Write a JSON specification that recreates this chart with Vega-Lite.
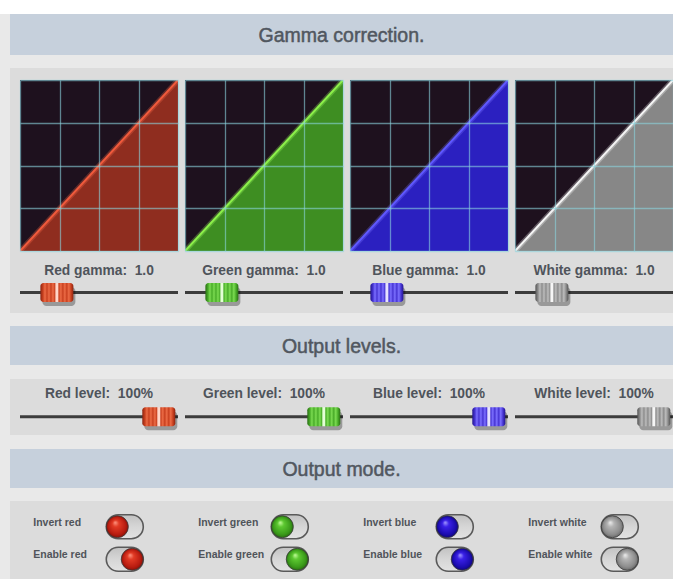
{
"$schema": "https://vega.github.io/schema/vega-lite/v6.json",
"padding": 0,
"background": "#dcdcdc",
"spacing": 0,
"config": {
  "view": {"stroke": null},
  "text": {"font": "Liberation Sans"},
  "axis": {"labels": false, "ticks": false, "domain": false, "grid": true, "gridColor": "#8ad4de", "gridOpacity": 0.6, "gridWidth": 1.3, "minExtent": 0, "maxExtent": 0}
},
"vconcat": [
  {"width": 673, "height": 14, "data": {"values": [{}]}, "mark": {"type": "text", "text": ""}, "view": {"fill": "#ffffff"}},
  {"spacing": 0, "hconcat": [
    {"width": 10, "height": 565, "data": {"values": [{}]}, "mark": {"type": "text", "text": ""}, "view": {"fill": "#e9e9e9"}},
    {"spacing": 0, "vconcat": [
      {"width": 663, "height": 41, "data": {"values": [{"title": "Gamma correction."}]}, "mark": {"type": "text", "fontSize": 19.5, "color": "#515760", "stroke": "#515760", "strokeWidth": 0.5, "dy": 1}, "encoding": {"text": {"field": "title"}}, "view": {"fill": "#c6d0dc"}},
      {"width": 663, "height": 13, "data": {"values": [{}]}, "mark": {"type": "text", "text": ""}, "view": {"fill": "#e9e9e9"}},
      {"width": 663, "height": 12, "data": {"values": [{}]}, "mark": {"type": "text", "text": ""}},
      {"spacing": 7, "bounds": "flush", "hconcat": [
        {"width": 2.5, "height": 171, "data": {"values": [{}]}, "mark": {"type": "text", "text": ""}},
        {"width": 158, "height": 171, "view": {"fill": "#1e111e"},
         "data": {"values": [{"input": 0, "output": 0}, {"input": 1, "output": 1}]},
         "encoding": {
           "x": {"field": "input", "type": "quantitative", "scale": {"domain": [0, 1], "nice": false, "zero": false}, "axis": {"values": [0, 0.25, 0.5, 0.75, 1], "title": null, "zindex": 1}},
           "y": {"field": "output", "type": "quantitative", "scale": {"domain": [0, 1], "nice": false, "zero": false}, "axis": {"values": [0, 0.25, 0.5, 0.75, 1], "title": null, "zindex": 1}}
         },
         "layer": [
           {"mark": {"type": "area", "color": "#8f2d1f", "clip": true}},
           {"mark": {"type": "line", "color": "#ff6a4a", "strokeWidth": 5, "opacity": 0.3, "clip": true}},
           {"mark": {"type": "line", "color": "#f05a3c", "strokeWidth": 2, "clip": true}}
         ]},
        {"width": 158, "height": 171, "view": {"fill": "#1e111e"},
         "data": {"values": [{"input": 0, "output": 0}, {"input": 1, "output": 1}]},
         "encoding": {
           "x": {"field": "input", "type": "quantitative", "scale": {"domain": [0, 1], "nice": false, "zero": false}, "axis": {"values": [0, 0.25, 0.5, 0.75, 1], "title": null, "zindex": 1}},
           "y": {"field": "output", "type": "quantitative", "scale": {"domain": [0, 1], "nice": false, "zero": false}, "axis": {"values": [0, 0.25, 0.5, 0.75, 1], "title": null, "zindex": 1}}
         },
         "layer": [
           {"mark": {"type": "area", "color": "#3e8e22", "clip": true}},
           {"mark": {"type": "line", "color": "#a0ff60", "strokeWidth": 5, "opacity": 0.3, "clip": true}},
           {"mark": {"type": "line", "color": "#8cf04a", "strokeWidth": 2, "clip": true}}
         ]},
        {"width": 158, "height": 171, "view": {"fill": "#1e111e"},
         "data": {"values": [{"input": 0, "output": 0}, {"input": 1, "output": 1}]},
         "encoding": {
           "x": {"field": "input", "type": "quantitative", "scale": {"domain": [0, 1], "nice": false, "zero": false}, "axis": {"values": [0, 0.25, 0.5, 0.75, 1], "title": null, "zindex": 1}},
           "y": {"field": "output", "type": "quantitative", "scale": {"domain": [0, 1], "nice": false, "zero": false}, "axis": {"values": [0, 0.25, 0.5, 0.75, 1], "title": null, "zindex": 1}}
         },
         "layer": [
           {"mark": {"type": "area", "color": "#2b20c0", "clip": true}},
           {"mark": {"type": "line", "color": "#7a74ff", "strokeWidth": 5, "opacity": 0.3, "clip": true}},
           {"mark": {"type": "line", "color": "#5f58ff", "strokeWidth": 2, "clip": true}}
         ]},
        {"width": 158, "height": 171, "view": {"fill": "#1e111e"},
         "data": {"values": [{"input": 0, "output": 0}, {"input": 1, "output": 1}]},
         "encoding": {
           "x": {"field": "input", "type": "quantitative", "scale": {"domain": [0, 1], "nice": false, "zero": false}, "axis": {"values": [0, 0.25, 0.5, 0.75, 1], "title": null, "zindex": 1}},
           "y": {"field": "output", "type": "quantitative", "scale": {"domain": [0, 1], "nice": false, "zero": false}, "axis": {"values": [0, 0.25, 0.5, 0.75, 1], "title": null, "zindex": 1}}
         },
         "layer": [
           {"mark": {"type": "area", "color": "#878787", "clip": true}},
           {"mark": {"type": "line", "color": "#ffffff", "strokeWidth": 5, "opacity": 0.3, "clip": true}},
           {"mark": {"type": "line", "color": "#f4f4f4", "strokeWidth": 2, "clip": true}}
         ]}
      ]},
      {"spacing": 7, "bounds": "flush", "hconcat": [
        {"width": 2.5, "height": 62, "data": {"values": [{}]}, "mark": {"type": "text", "text": ""}},
        {"width": 158, "height": 62,
         "data": {"values": [{"label": "Red gamma: \u00a01.0", "gamma": 1.0}]},
         "layer": [
           {"mark": {"type": "text", "fontSize": 13.8, "fontWeight": "bold", "color": "#4f545b"},
            "encoding": {"text": {"field": "label"}, "y": {"datum": "label", "type": "nominal", "scale": {"type": "point", "domain": ["label", "track"], "padding": 0.97}, "axis": null}}},
           {"mark": {"type": "rule", "color": "#3c3c3c", "strokeWidth": 3},
            "encoding": {"y": {"datum": "track", "type": "nominal", "scale": {"type": "point", "domain": ["label", "track"], "padding": 0.97}, "axis": null}}},
           {"mark": {"type": "rect", "width": 33, "height": 19, "cornerRadius": 4, "color": "#000000", "opacity": 0.3, "xOffset": 2, "yOffset": 4},
            "encoding": {"x": {"field": "gamma", "type": "quantitative", "scale": {"domain": [0.0953, 3.971], "nice": false, "zero": false}, "axis": null}, "y": {"datum": "track", "type": "nominal", "scale": {"type": "point", "domain": ["label", "track"], "padding": 0.97}, "axis": null}}},
           {"mark": {"type": "rect", "width": 33, "height": 19, "cornerRadius": 3, "fill": {"gradient": "linear", "x1": 0, "y1": 0, "x2": 1, "y2": 0, "stops": [{"offset": 0, "color": "#8c2410"}, {"offset": 0.08, "color": "#c8401f"}, {"offset": 0.14, "color": "#ec6c46"}, {"offset": 0.2, "color": "#c8401f"}, {"offset": 0.26, "color": "#ec6c46"}, {"offset": 0.32, "color": "#c8401f"}, {"offset": 0.38, "color": "#ec6c46"}, {"offset": 0.44, "color": "#c8401f"}, {"offset": 0.47, "color": "#ffd6c8"}, {"offset": 0.53, "color": "#ffd6c8"}, {"offset": 0.56, "color": "#c8401f"}, {"offset": 0.62, "color": "#ec6c46"}, {"offset": 0.68, "color": "#c8401f"}, {"offset": 0.74, "color": "#ec6c46"}, {"offset": 0.8, "color": "#c8401f"}, {"offset": 0.86, "color": "#ec6c46"}, {"offset": 0.93, "color": "#c8401f"}, {"offset": 1, "color": "#8c2410"}]}},
            "encoding": {"x": {"field": "gamma", "type": "quantitative", "scale": {"domain": [0.0953, 3.971], "nice": false, "zero": false}, "axis": null}, "y": {"datum": "track", "type": "nominal", "scale": {"type": "point", "domain": ["label", "track"], "padding": 0.97}, "axis": null}}}
         ]},
        {"width": 158, "height": 62,
         "data": {"values": [{"label": "Green gamma: \u00a01.0", "gamma": 1.0}]},
         "layer": [
           {"mark": {"type": "text", "fontSize": 13.8, "fontWeight": "bold", "color": "#4f545b"},
            "encoding": {"text": {"field": "label"}, "y": {"datum": "label", "type": "nominal", "scale": {"type": "point", "domain": ["label", "track"], "padding": 0.97}, "axis": null}}},
           {"mark": {"type": "rule", "color": "#3c3c3c", "strokeWidth": 3},
            "encoding": {"y": {"datum": "track", "type": "nominal", "scale": {"type": "point", "domain": ["label", "track"], "padding": 0.97}, "axis": null}}},
           {"mark": {"type": "rect", "width": 33, "height": 19, "cornerRadius": 4, "color": "#000000", "opacity": 0.3, "xOffset": 2, "yOffset": 4},
            "encoding": {"x": {"field": "gamma", "type": "quantitative", "scale": {"domain": [0.0953, 3.971], "nice": false, "zero": false}, "axis": null}, "y": {"datum": "track", "type": "nominal", "scale": {"type": "point", "domain": ["label", "track"], "padding": 0.97}, "axis": null}}},
           {"mark": {"type": "rect", "width": 33, "height": 19, "cornerRadius": 3, "fill": {"gradient": "linear", "x1": 0, "y1": 0, "x2": 1, "y2": 0, "stops": [{"offset": 0, "color": "#2a6e14"}, {"offset": 0.08, "color": "#48ab28"}, {"offset": 0.14, "color": "#7cdc52"}, {"offset": 0.2, "color": "#48ab28"}, {"offset": 0.26, "color": "#7cdc52"}, {"offset": 0.32, "color": "#48ab28"}, {"offset": 0.38, "color": "#7cdc52"}, {"offset": 0.44, "color": "#48ab28"}, {"offset": 0.47, "color": "#e4ffd6"}, {"offset": 0.53, "color": "#e4ffd6"}, {"offset": 0.56, "color": "#48ab28"}, {"offset": 0.62, "color": "#7cdc52"}, {"offset": 0.68, "color": "#48ab28"}, {"offset": 0.74, "color": "#7cdc52"}, {"offset": 0.8, "color": "#48ab28"}, {"offset": 0.86, "color": "#7cdc52"}, {"offset": 0.93, "color": "#48ab28"}, {"offset": 1, "color": "#2a6e14"}]}},
            "encoding": {"x": {"field": "gamma", "type": "quantitative", "scale": {"domain": [0.0953, 3.971], "nice": false, "zero": false}, "axis": null}, "y": {"datum": "track", "type": "nominal", "scale": {"type": "point", "domain": ["label", "track"], "padding": 0.97}, "axis": null}}}
         ]},
        {"width": 158, "height": 62,
         "data": {"values": [{"label": "Blue gamma: \u00a01.0", "gamma": 1.0}]},
         "layer": [
           {"mark": {"type": "text", "fontSize": 13.8, "fontWeight": "bold", "color": "#4f545b"},
            "encoding": {"text": {"field": "label"}, "y": {"datum": "label", "type": "nominal", "scale": {"type": "point", "domain": ["label", "track"], "padding": 0.97}, "axis": null}}},
           {"mark": {"type": "rule", "color": "#3c3c3c", "strokeWidth": 3},
            "encoding": {"y": {"datum": "track", "type": "nominal", "scale": {"type": "point", "domain": ["label", "track"], "padding": 0.97}, "axis": null}}},
           {"mark": {"type": "rect", "width": 33, "height": 19, "cornerRadius": 4, "color": "#000000", "opacity": 0.3, "xOffset": 2, "yOffset": 4},
            "encoding": {"x": {"field": "gamma", "type": "quantitative", "scale": {"domain": [0.0953, 3.971], "nice": false, "zero": false}, "axis": null}, "y": {"datum": "track", "type": "nominal", "scale": {"type": "point", "domain": ["label", "track"], "padding": 0.97}, "axis": null}}},
           {"mark": {"type": "rect", "width": 33, "height": 19, "cornerRadius": 3, "fill": {"gradient": "linear", "x1": 0, "y1": 0, "x2": 1, "y2": 0, "stops": [{"offset": 0, "color": "#24168e"}, {"offset": 0.08, "color": "#4634d2"}, {"offset": 0.14, "color": "#7c70ff"}, {"offset": 0.2, "color": "#4634d2"}, {"offset": 0.26, "color": "#7c70ff"}, {"offset": 0.32, "color": "#4634d2"}, {"offset": 0.38, "color": "#7c70ff"}, {"offset": 0.44, "color": "#4634d2"}, {"offset": 0.47, "color": "#e6e2ff"}, {"offset": 0.53, "color": "#e6e2ff"}, {"offset": 0.56, "color": "#4634d2"}, {"offset": 0.62, "color": "#7c70ff"}, {"offset": 0.68, "color": "#4634d2"}, {"offset": 0.74, "color": "#7c70ff"}, {"offset": 0.8, "color": "#4634d2"}, {"offset": 0.86, "color": "#7c70ff"}, {"offset": 0.93, "color": "#4634d2"}, {"offset": 1, "color": "#24168e"}]}},
            "encoding": {"x": {"field": "gamma", "type": "quantitative", "scale": {"domain": [0.0953, 3.971], "nice": false, "zero": false}, "axis": null}, "y": {"datum": "track", "type": "nominal", "scale": {"type": "point", "domain": ["label", "track"], "padding": 0.97}, "axis": null}}}
         ]},
        {"width": 158, "height": 62,
         "data": {"values": [{"label": "White gamma: \u00a01.0", "gamma": 1.0}]},
         "layer": [
           {"mark": {"type": "text", "fontSize": 13.8, "fontWeight": "bold", "color": "#4f545b"},
            "encoding": {"text": {"field": "label"}, "y": {"datum": "label", "type": "nominal", "scale": {"type": "point", "domain": ["label", "track"], "padding": 0.97}, "axis": null}}},
           {"mark": {"type": "rule", "color": "#3c3c3c", "strokeWidth": 3},
            "encoding": {"y": {"datum": "track", "type": "nominal", "scale": {"type": "point", "domain": ["label", "track"], "padding": 0.97}, "axis": null}}},
           {"mark": {"type": "rect", "width": 33, "height": 19, "cornerRadius": 4, "color": "#000000", "opacity": 0.3, "xOffset": 2, "yOffset": 4},
            "encoding": {"x": {"field": "gamma", "type": "quantitative", "scale": {"domain": [0.0953, 3.971], "nice": false, "zero": false}, "axis": null}, "y": {"datum": "track", "type": "nominal", "scale": {"type": "point", "domain": ["label", "track"], "padding": 0.97}, "axis": null}}},
           {"mark": {"type": "rect", "width": 33, "height": 19, "cornerRadius": 3, "fill": {"gradient": "linear", "x1": 0, "y1": 0, "x2": 1, "y2": 0, "stops": [{"offset": 0, "color": "#555555"}, {"offset": 0.08, "color": "#8c8c8c"}, {"offset": 0.14, "color": "#bdbdbd"}, {"offset": 0.2, "color": "#8c8c8c"}, {"offset": 0.26, "color": "#bdbdbd"}, {"offset": 0.32, "color": "#8c8c8c"}, {"offset": 0.38, "color": "#bdbdbd"}, {"offset": 0.44, "color": "#8c8c8c"}, {"offset": 0.47, "color": "#f6f6f6"}, {"offset": 0.53, "color": "#f6f6f6"}, {"offset": 0.56, "color": "#8c8c8c"}, {"offset": 0.62, "color": "#bdbdbd"}, {"offset": 0.68, "color": "#8c8c8c"}, {"offset": 0.74, "color": "#bdbdbd"}, {"offset": 0.8, "color": "#8c8c8c"}, {"offset": 0.86, "color": "#bdbdbd"}, {"offset": 0.93, "color": "#8c8c8c"}, {"offset": 1, "color": "#555555"}]}},
            "encoding": {"x": {"field": "gamma", "type": "quantitative", "scale": {"domain": [0.0953, 3.971], "nice": false, "zero": false}, "axis": null}, "y": {"datum": "track", "type": "nominal", "scale": {"type": "point", "domain": ["label", "track"], "padding": 0.97}, "axis": null}}}
         ]}
      ]},
      {"width": 663, "height": 13, "data": {"values": [{}]}, "mark": {"type": "text", "text": ""}, "view": {"fill": "#e9e9e9"}},
      {"width": 663, "height": 39, "data": {"values": [{"title": "Output levels."}]}, "mark": {"type": "text", "fontSize": 19.5, "color": "#515760", "stroke": "#515760", "strokeWidth": 0.5, "dy": 1}, "encoding": {"text": {"field": "title"}}, "view": {"fill": "#c6d0dc"}},
      {"width": 663, "height": 14, "data": {"values": [{}]}, "mark": {"type": "text", "text": ""}, "view": {"fill": "#e9e9e9"}},
      {"spacing": 7, "bounds": "flush", "hconcat": [
        {"width": 2.5, "height": 56, "data": {"values": [{}]}, "mark": {"type": "text", "text": ""}},
        {"width": 158, "height": 56,
         "data": {"values": [{"label": "Red level: \u00a0100%", "level": 100}]},
         "layer": [
           {"mark": {"type": "text", "fontSize": 13.8, "fontWeight": "bold", "color": "#4f545b", "dy": -3},
            "encoding": {"text": {"field": "label"}, "y": {"datum": "label", "type": "nominal", "scale": {"type": "point", "domain": ["label", "track"], "padding": 0.943}, "axis": null}}},
           {"mark": {"type": "rule", "color": "#3c3c3c", "strokeWidth": 3},
            "encoding": {"y": {"datum": "track", "type": "nominal", "scale": {"type": "point", "domain": ["label", "track"], "padding": 0.943}, "axis": null}}},
           {"mark": {"type": "rect", "width": 33, "height": 19, "cornerRadius": 4, "color": "#000000", "opacity": 0.3, "xOffset": 2, "yOffset": 4},
            "encoding": {"x": {"field": "level", "type": "quantitative", "scale": {"domain": [-13.49, 115.7], "nice": false, "zero": false}, "axis": null}, "y": {"datum": "track", "type": "nominal", "scale": {"type": "point", "domain": ["label", "track"], "padding": 0.943}, "axis": null}}},
           {"mark": {"type": "rect", "width": 33, "height": 19, "cornerRadius": 3, "fill": {"gradient": "linear", "x1": 0, "y1": 0, "x2": 1, "y2": 0, "stops": [{"offset": 0, "color": "#8c2410"}, {"offset": 0.08, "color": "#c8401f"}, {"offset": 0.14, "color": "#ec6c46"}, {"offset": 0.2, "color": "#c8401f"}, {"offset": 0.26, "color": "#ec6c46"}, {"offset": 0.32, "color": "#c8401f"}, {"offset": 0.38, "color": "#ec6c46"}, {"offset": 0.44, "color": "#c8401f"}, {"offset": 0.47, "color": "#ffd6c8"}, {"offset": 0.53, "color": "#ffd6c8"}, {"offset": 0.56, "color": "#c8401f"}, {"offset": 0.62, "color": "#ec6c46"}, {"offset": 0.68, "color": "#c8401f"}, {"offset": 0.74, "color": "#ec6c46"}, {"offset": 0.8, "color": "#c8401f"}, {"offset": 0.86, "color": "#ec6c46"}, {"offset": 0.93, "color": "#c8401f"}, {"offset": 1, "color": "#8c2410"}]}},
            "encoding": {"x": {"field": "level", "type": "quantitative", "scale": {"domain": [-13.49, 115.7], "nice": false, "zero": false}, "axis": null}, "y": {"datum": "track", "type": "nominal", "scale": {"type": "point", "domain": ["label", "track"], "padding": 0.943}, "axis": null}}}
         ]},
        {"width": 158, "height": 56,
         "data": {"values": [{"label": "Green level: \u00a0100%", "level": 100}]},
         "layer": [
           {"mark": {"type": "text", "fontSize": 13.8, "fontWeight": "bold", "color": "#4f545b", "dy": -3},
            "encoding": {"text": {"field": "label"}, "y": {"datum": "label", "type": "nominal", "scale": {"type": "point", "domain": ["label", "track"], "padding": 0.943}, "axis": null}}},
           {"mark": {"type": "rule", "color": "#3c3c3c", "strokeWidth": 3},
            "encoding": {"y": {"datum": "track", "type": "nominal", "scale": {"type": "point", "domain": ["label", "track"], "padding": 0.943}, "axis": null}}},
           {"mark": {"type": "rect", "width": 33, "height": 19, "cornerRadius": 4, "color": "#000000", "opacity": 0.3, "xOffset": 2, "yOffset": 4},
            "encoding": {"x": {"field": "level", "type": "quantitative", "scale": {"domain": [-13.49, 115.7], "nice": false, "zero": false}, "axis": null}, "y": {"datum": "track", "type": "nominal", "scale": {"type": "point", "domain": ["label", "track"], "padding": 0.943}, "axis": null}}},
           {"mark": {"type": "rect", "width": 33, "height": 19, "cornerRadius": 3, "fill": {"gradient": "linear", "x1": 0, "y1": 0, "x2": 1, "y2": 0, "stops": [{"offset": 0, "color": "#2a6e14"}, {"offset": 0.08, "color": "#48ab28"}, {"offset": 0.14, "color": "#7cdc52"}, {"offset": 0.2, "color": "#48ab28"}, {"offset": 0.26, "color": "#7cdc52"}, {"offset": 0.32, "color": "#48ab28"}, {"offset": 0.38, "color": "#7cdc52"}, {"offset": 0.44, "color": "#48ab28"}, {"offset": 0.47, "color": "#e4ffd6"}, {"offset": 0.53, "color": "#e4ffd6"}, {"offset": 0.56, "color": "#48ab28"}, {"offset": 0.62, "color": "#7cdc52"}, {"offset": 0.68, "color": "#48ab28"}, {"offset": 0.74, "color": "#7cdc52"}, {"offset": 0.8, "color": "#48ab28"}, {"offset": 0.86, "color": "#7cdc52"}, {"offset": 0.93, "color": "#48ab28"}, {"offset": 1, "color": "#2a6e14"}]}},
            "encoding": {"x": {"field": "level", "type": "quantitative", "scale": {"domain": [-13.49, 115.7], "nice": false, "zero": false}, "axis": null}, "y": {"datum": "track", "type": "nominal", "scale": {"type": "point", "domain": ["label", "track"], "padding": 0.943}, "axis": null}}}
         ]},
        {"width": 158, "height": 56,
         "data": {"values": [{"label": "Blue level: \u00a0100%", "level": 100}]},
         "layer": [
           {"mark": {"type": "text", "fontSize": 13.8, "fontWeight": "bold", "color": "#4f545b", "dy": -3},
            "encoding": {"text": {"field": "label"}, "y": {"datum": "label", "type": "nominal", "scale": {"type": "point", "domain": ["label", "track"], "padding": 0.943}, "axis": null}}},
           {"mark": {"type": "rule", "color": "#3c3c3c", "strokeWidth": 3},
            "encoding": {"y": {"datum": "track", "type": "nominal", "scale": {"type": "point", "domain": ["label", "track"], "padding": 0.943}, "axis": null}}},
           {"mark": {"type": "rect", "width": 33, "height": 19, "cornerRadius": 4, "color": "#000000", "opacity": 0.3, "xOffset": 2, "yOffset": 4},
            "encoding": {"x": {"field": "level", "type": "quantitative", "scale": {"domain": [-13.49, 115.7], "nice": false, "zero": false}, "axis": null}, "y": {"datum": "track", "type": "nominal", "scale": {"type": "point", "domain": ["label", "track"], "padding": 0.943}, "axis": null}}},
           {"mark": {"type": "rect", "width": 33, "height": 19, "cornerRadius": 3, "fill": {"gradient": "linear", "x1": 0, "y1": 0, "x2": 1, "y2": 0, "stops": [{"offset": 0, "color": "#24168e"}, {"offset": 0.08, "color": "#4634d2"}, {"offset": 0.14, "color": "#7c70ff"}, {"offset": 0.2, "color": "#4634d2"}, {"offset": 0.26, "color": "#7c70ff"}, {"offset": 0.32, "color": "#4634d2"}, {"offset": 0.38, "color": "#7c70ff"}, {"offset": 0.44, "color": "#4634d2"}, {"offset": 0.47, "color": "#e6e2ff"}, {"offset": 0.53, "color": "#e6e2ff"}, {"offset": 0.56, "color": "#4634d2"}, {"offset": 0.62, "color": "#7c70ff"}, {"offset": 0.68, "color": "#4634d2"}, {"offset": 0.74, "color": "#7c70ff"}, {"offset": 0.8, "color": "#4634d2"}, {"offset": 0.86, "color": "#7c70ff"}, {"offset": 0.93, "color": "#4634d2"}, {"offset": 1, "color": "#24168e"}]}},
            "encoding": {"x": {"field": "level", "type": "quantitative", "scale": {"domain": [-13.49, 115.7], "nice": false, "zero": false}, "axis": null}, "y": {"datum": "track", "type": "nominal", "scale": {"type": "point", "domain": ["label", "track"], "padding": 0.943}, "axis": null}}}
         ]},
        {"width": 158, "height": 56,
         "data": {"values": [{"label": "White level: \u00a0100%", "level": 100}]},
         "layer": [
           {"mark": {"type": "text", "fontSize": 13.8, "fontWeight": "bold", "color": "#4f545b", "dy": -3},
            "encoding": {"text": {"field": "label"}, "y": {"datum": "label", "type": "nominal", "scale": {"type": "point", "domain": ["label", "track"], "padding": 0.943}, "axis": null}}},
           {"mark": {"type": "rule", "color": "#3c3c3c", "strokeWidth": 3},
            "encoding": {"y": {"datum": "track", "type": "nominal", "scale": {"type": "point", "domain": ["label", "track"], "padding": 0.943}, "axis": null}}},
           {"mark": {"type": "rect", "width": 33, "height": 19, "cornerRadius": 4, "color": "#000000", "opacity": 0.3, "xOffset": 2, "yOffset": 4},
            "encoding": {"x": {"field": "level", "type": "quantitative", "scale": {"domain": [-13.49, 115.7], "nice": false, "zero": false}, "axis": null}, "y": {"datum": "track", "type": "nominal", "scale": {"type": "point", "domain": ["label", "track"], "padding": 0.943}, "axis": null}}},
           {"mark": {"type": "rect", "width": 33, "height": 19, "cornerRadius": 3, "fill": {"gradient": "linear", "x1": 0, "y1": 0, "x2": 1, "y2": 0, "stops": [{"offset": 0, "color": "#555555"}, {"offset": 0.08, "color": "#8c8c8c"}, {"offset": 0.14, "color": "#bdbdbd"}, {"offset": 0.2, "color": "#8c8c8c"}, {"offset": 0.26, "color": "#bdbdbd"}, {"offset": 0.32, "color": "#8c8c8c"}, {"offset": 0.38, "color": "#bdbdbd"}, {"offset": 0.44, "color": "#8c8c8c"}, {"offset": 0.47, "color": "#f6f6f6"}, {"offset": 0.53, "color": "#f6f6f6"}, {"offset": 0.56, "color": "#8c8c8c"}, {"offset": 0.62, "color": "#bdbdbd"}, {"offset": 0.68, "color": "#8c8c8c"}, {"offset": 0.74, "color": "#bdbdbd"}, {"offset": 0.8, "color": "#8c8c8c"}, {"offset": 0.86, "color": "#bdbdbd"}, {"offset": 0.93, "color": "#8c8c8c"}, {"offset": 1, "color": "#555555"}]}},
            "encoding": {"x": {"field": "level", "type": "quantitative", "scale": {"domain": [-13.49, 115.7], "nice": false, "zero": false}, "axis": null}, "y": {"datum": "track", "type": "nominal", "scale": {"type": "point", "domain": ["label", "track"], "padding": 0.943}, "axis": null}}}
         ]}
      ]},
      {"width": 663, "height": 14, "data": {"values": [{}]}, "mark": {"type": "text", "text": ""}, "view": {"fill": "#e9e9e9"}},
      {"width": 663, "height": 39, "data": {"values": [{"title": "Output mode."}]}, "mark": {"type": "text", "fontSize": 19.5, "color": "#515760", "stroke": "#515760", "strokeWidth": 0.5, "dy": 1}, "encoding": {"text": {"field": "title"}}, "view": {"fill": "#c6d0dc"}},
      {"width": 663, "height": 13, "data": {"values": [{}]}, "mark": {"type": "text", "text": ""}, "view": {"fill": "#e9e9e9"}},
      {"spacing": 7, "bounds": "flush", "hconcat": [
        {"width": 2.5, "height": 78, "data": {"values": [{}]}, "mark": {"type": "text", "text": ""}},
        {"width": 158, "height": 78,
         "data": {"values": [{"switch": "Invert", "label": "Invert red", "state": 0}, {"switch": "Enable", "label": "Enable red", "state": 1}]},
         "encoding": {"y": {"field": "switch", "type": "nominal", "scale": {"type": "point", "domain": ["Invert", "Enable"], "padding": 0.696}, "axis": null}},
         "layer": [
           {"mark": {"type": "text", "fontSize": 10.5, "fontWeight": "bold", "color": "#50545a", "align": "left", "dy": -1},
            "encoding": {"text": {"field": "label"}, "x": {"datum": -5.64, "type": "quantitative", "scale": {"domain": [-6.53, 4.07], "nice": false, "zero": false}, "axis": null}}},
           {"mark": {"type": "rect", "width": 37, "height": 24, "cornerRadius": 12, "fill": {"gradient": "linear", "x1": 0, "y1": 0, "x2": 0, "y2": 1, "stops": [{"offset": 0, "color": "#c2c2c2"}, {"offset": 0.5, "color": "#d6d6d6"}, {"offset": 1, "color": "#e2e2e2"}]}, "stroke": "#5a5a5a", "strokeWidth": 1.6, "yOffset": 3},
            "encoding": {"x": {"datum": 0.5, "type": "quantitative", "scale": {"domain": [-6.53, 4.07], "nice": false, "zero": false}, "axis": null}}},
           {"mark": {"type": "point", "shape": "circle", "filled": true, "size": 484, "opacity": 1, "stroke": "#3a3a3a", "strokeWidth": 0.8, "yOffset": 3, "fill": {"gradient": "radial", "x1": 0.4, "y1": 0.3, "r1": 0, "x2": 0.5, "y2": 0.5, "r2": 0.5, "stops": [{"offset": 0, "color": "#ff9a86"}, {"offset": 0.3, "color": "#e23a24"}, {"offset": 0.8, "color": "#b81c10"}, {"offset": 1, "color": "#8a1208"}]}},
            "encoding": {"x": {"field": "state", "type": "quantitative", "scale": {"domain": [-6.53, 4.07], "nice": false, "zero": false}, "axis": null}}}
         ]},
        {"width": 158, "height": 78,
         "data": {"values": [{"switch": "Invert", "label": "Invert green", "state": 0}, {"switch": "Enable", "label": "Enable green", "state": 1}]},
         "encoding": {"y": {"field": "switch", "type": "nominal", "scale": {"type": "point", "domain": ["Invert", "Enable"], "padding": 0.696}, "axis": null}},
         "layer": [
           {"mark": {"type": "text", "fontSize": 10.5, "fontWeight": "bold", "color": "#50545a", "align": "left", "dy": -1},
            "encoding": {"text": {"field": "label"}, "x": {"datum": -5.64, "type": "quantitative", "scale": {"domain": [-6.53, 4.07], "nice": false, "zero": false}, "axis": null}}},
           {"mark": {"type": "rect", "width": 37, "height": 24, "cornerRadius": 12, "fill": {"gradient": "linear", "x1": 0, "y1": 0, "x2": 0, "y2": 1, "stops": [{"offset": 0, "color": "#c2c2c2"}, {"offset": 0.5, "color": "#d6d6d6"}, {"offset": 1, "color": "#e2e2e2"}]}, "stroke": "#5a5a5a", "strokeWidth": 1.6, "yOffset": 3},
            "encoding": {"x": {"datum": 0.5, "type": "quantitative", "scale": {"domain": [-6.53, 4.07], "nice": false, "zero": false}, "axis": null}}},
           {"mark": {"type": "point", "shape": "circle", "filled": true, "size": 484, "opacity": 1, "stroke": "#3a3a3a", "strokeWidth": 0.8, "yOffset": 3, "fill": {"gradient": "radial", "x1": 0.4, "y1": 0.3, "r1": 0, "x2": 0.5, "y2": 0.5, "r2": 0.5, "stops": [{"offset": 0, "color": "#c8ffa0"}, {"offset": 0.3, "color": "#5cc830"}, {"offset": 0.8, "color": "#3a9a1a"}, {"offset": 1, "color": "#2a7010"}]}},
            "encoding": {"x": {"field": "state", "type": "quantitative", "scale": {"domain": [-6.53, 4.07], "nice": false, "zero": false}, "axis": null}}}
         ]},
        {"width": 158, "height": 78,
         "data": {"values": [{"switch": "Invert", "label": "Invert blue", "state": 0}, {"switch": "Enable", "label": "Enable blue", "state": 1}]},
         "encoding": {"y": {"field": "switch", "type": "nominal", "scale": {"type": "point", "domain": ["Invert", "Enable"], "padding": 0.696}, "axis": null}},
         "layer": [
           {"mark": {"type": "text", "fontSize": 10.5, "fontWeight": "bold", "color": "#50545a", "align": "left", "dy": -1},
            "encoding": {"text": {"field": "label"}, "x": {"datum": -5.64, "type": "quantitative", "scale": {"domain": [-6.53, 4.07], "nice": false, "zero": false}, "axis": null}}},
           {"mark": {"type": "rect", "width": 37, "height": 24, "cornerRadius": 12, "fill": {"gradient": "linear", "x1": 0, "y1": 0, "x2": 0, "y2": 1, "stops": [{"offset": 0, "color": "#c2c2c2"}, {"offset": 0.5, "color": "#d6d6d6"}, {"offset": 1, "color": "#e2e2e2"}]}, "stroke": "#5a5a5a", "strokeWidth": 1.6, "yOffset": 3},
            "encoding": {"x": {"datum": 0.5, "type": "quantitative", "scale": {"domain": [-6.53, 4.07], "nice": false, "zero": false}, "axis": null}}},
           {"mark": {"type": "point", "shape": "circle", "filled": true, "size": 484, "opacity": 1, "stroke": "#3a3a3a", "strokeWidth": 0.8, "yOffset": 3, "fill": {"gradient": "radial", "x1": 0.4, "y1": 0.3, "r1": 0, "x2": 0.5, "y2": 0.5, "r2": 0.5, "stops": [{"offset": 0, "color": "#a8a0ff"}, {"offset": 0.3, "color": "#3a20e8"}, {"offset": 0.8, "color": "#1c0cb0"}, {"offset": 1, "color": "#10087a"}]}},
            "encoding": {"x": {"field": "state", "type": "quantitative", "scale": {"domain": [-6.53, 4.07], "nice": false, "zero": false}, "axis": null}}}
         ]},
        {"width": 158, "height": 78,
         "data": {"values": [{"switch": "Invert", "label": "Invert white", "state": 0}, {"switch": "Enable", "label": "Enable white", "state": 1}]},
         "encoding": {"y": {"field": "switch", "type": "nominal", "scale": {"type": "point", "domain": ["Invert", "Enable"], "padding": 0.696}, "axis": null}},
         "layer": [
           {"mark": {"type": "text", "fontSize": 10.5, "fontWeight": "bold", "color": "#50545a", "align": "left", "dy": -1},
            "encoding": {"text": {"field": "label"}, "x": {"datum": -5.64, "type": "quantitative", "scale": {"domain": [-6.53, 4.07], "nice": false, "zero": false}, "axis": null}}},
           {"mark": {"type": "rect", "width": 37, "height": 24, "cornerRadius": 12, "fill": {"gradient": "linear", "x1": 0, "y1": 0, "x2": 0, "y2": 1, "stops": [{"offset": 0, "color": "#c2c2c2"}, {"offset": 0.5, "color": "#d6d6d6"}, {"offset": 1, "color": "#e2e2e2"}]}, "stroke": "#5a5a5a", "strokeWidth": 1.6, "yOffset": 3},
            "encoding": {"x": {"datum": 0.5, "type": "quantitative", "scale": {"domain": [-6.53, 4.07], "nice": false, "zero": false}, "axis": null}}},
           {"mark": {"type": "point", "shape": "circle", "filled": true, "size": 484, "opacity": 1, "stroke": "#3a3a3a", "strokeWidth": 0.8, "yOffset": 3, "fill": {"gradient": "radial", "x1": 0.4, "y1": 0.3, "r1": 0, "x2": 0.5, "y2": 0.5, "r2": 0.5, "stops": [{"offset": 0, "color": "#f0f0f0"}, {"offset": 0.3, "color": "#b4b4b4"}, {"offset": 0.8, "color": "#8c8c8c"}, {"offset": 1, "color": "#6a6a6a"}]}},
            "encoding": {"x": {"field": "state", "type": "quantitative", "scale": {"domain": [-6.53, 4.07], "nice": false, "zero": false}, "axis": null}}}
         ]}
      ]}
    ]}
  ]}
]
}
